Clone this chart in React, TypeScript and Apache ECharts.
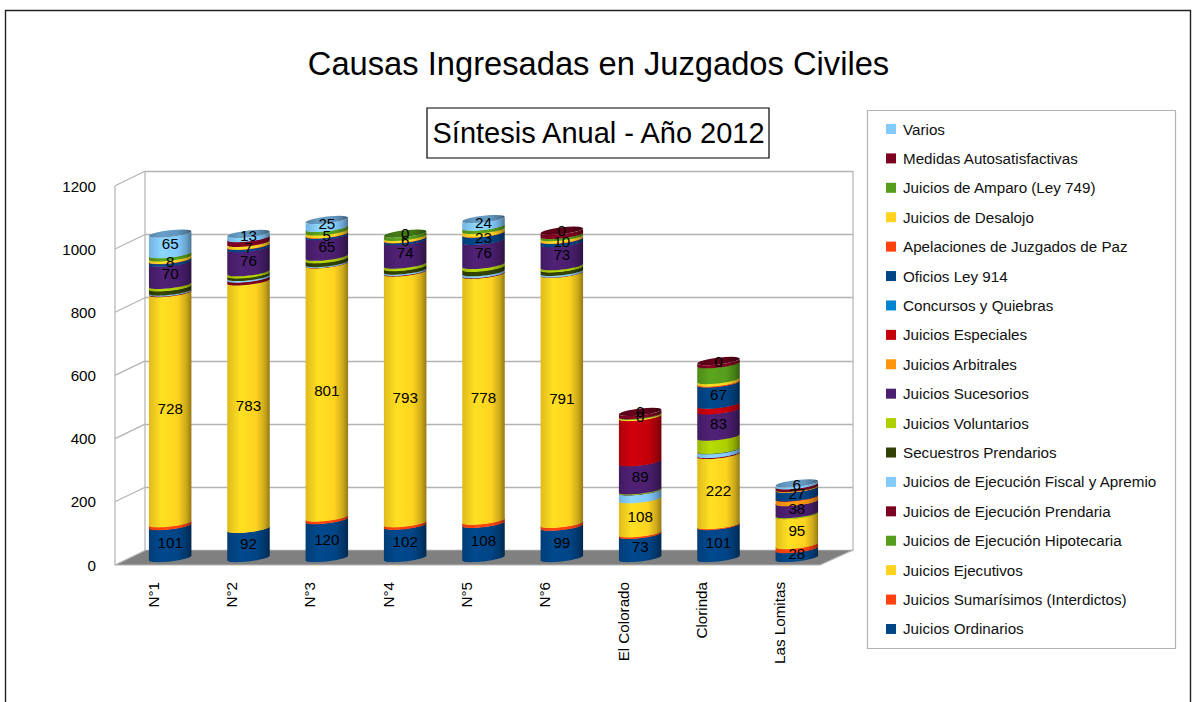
import React, { useEffect, useRef } from "react";
import * as echarts from "echarts";

const categories = ["N°1", "N°2", "N°3", "N°4", "N°5", "N°6", "El Colorado", "Clorinda", "Las Lomitas"];
const yTicks = [0, 200, 400, 600, 800, 1000, 1200];

const ordinarios = [101, 92, 120, 102, 108, 99, 73, 101, 28];
const sumarisimos = [9, 0, 8, 8, 10, 9, 5, 3, 13];
const ejecutivos = [728, 783, 801, 793, 778, 791, 108, 222, 95];
const hipotecaria = [0, 0, 0, 0, 0, 0, 0, 0, 1];
const prendaria = [2, 9, 1, 2, 2, 1, 0, 3, 0];
const fiscal = [3, 5, 3, 4, 6, 5, 25, 12, 0];
const secuestros = [13, 8, 12, 11, 14, 11, 1, 1, 0];
const voluntarios = [8, 7, 8, 8, 9, 7, 2, 42, 2];
const sucesorios = [70, 76, 65, 74, 76, 73, 89, 83, 38];
const arbitrales = [0, 0, 0, 0, 0, 0, 0, 0, 14];
const especiales = [0, 0, 0, 0, 0, 0, 143, 18, 1];
const concursos = [0, 0, 0, 0, 0, 0, 0, 0, 0];
const oficios = [8, 7, 5, 6, 23, 10, 0, 67, 27];
const apelaciones = [1, 1, 1, 1, 1, 1, 0, 3, 1];
const desalojo = [8, 9, 9, 7, 11, 8, 4, 8, 1];
const amparo = [10, 0, 11, 10, 10, 7, 2, 50, 1];
const medidas = [0, 15, 0, 0, 0, 13, 10, 10, 8];
const varios = [65, 13, 25, 0, 24, 0, 0, 0, 6];

const seriesNames = [
  "Juicios Ordinarios", "Juicios Sumarísimos (Interdictos)", "Juicios Ejecutivos",
  "Juicios de Ejecución Hipotecaria", "Juicios de Ejecución Prendaria",
  "Juicios de Ejecución Fiscal y Apremio", "Secuestros Prendarios", "Juicios Voluntarios",
  "Juicios Sucesorios", "Juicios Arbitrales", "Juicios Especiales", "Concursos y Quiebras",
  "Oficios Ley 914", "Apelaciones de Juzgados de Paz", "Juicios de Desalojo",
  "Juicios de Amparo (Ley 749)", "Medidas Autosatisfactivas", "Varios",
];
const seriesValues = [
  ordinarios, sumarisimos, ejecutivos, hipotecaria, prendaria, fiscal, secuestros, voluntarios,
  sucesorios, arbitrales, especiales, concursos, oficios, apelaciones, desalojo, amparo, medidas, varios,
];
const seriesColors = [
  "#004586", "#ff420e", "#ffd320", "#579d1c", "#7e0021", "#83caff", "#314004", "#aecf00",
  "#4b1f6f", "#ff950e", "#c5000b", "#0084d1", "#004586", "#ff420e", "#ffd320", "#579d1c", "#7e0021", "#83caff",
];
const labelledSeries = ["Juicios Ordinarios", "Juicios Ejecutivos", "Juicios Sucesorios", "Oficios Ley 914", "Varios"];

const FONT = "'Liberation Sans', Arial, sans-serif";
const WALL = "#b3b3b3";

function shade(hex: string, k: number) {
  const n = parseInt(hex.slice(1), 16);
  const f = (v: number) => Math.max(0, Math.min(255, Math.round(v * k)));
  return `rgb(${f((n >> 16) & 255)},${f((n >> 8) & 255)},${f(n & 255)})`;
}
function gradient(hex: string, k: number) {
  return {
    type: "linear", x: 0, y: 0, x2: 1, y2: 0,
    colorStops: [
      { offset: 0, color: shade(hex, 0.88 * k) },
      { offset: 0.3, color: shade(hex, 1.06 * k) },
      { offset: 0.68, color: shade(hex, 1.0 * k) },
      { offset: 0.88, color: shade(hex, 0.8 * k) },
      { offset: 1, color: shade(hex, 0.58 * k) },
    ],
  };
}

const A = 21.25, B = 3.4, T = 2.4;
function arc(cx: number, cy: number, from: number, to: number) {
  const pts: number[][] = [];
  const N = 20;
  for (let i = 0; i <= N; i++) {
    const th = from + ((to - from) * i) / N;
    pts.push([cx + A * Math.cos(th), cy - T * Math.cos(th) - B * Math.sin(th)]);
  }
  return pts;
}

function topSeriesOf(cat: number) {
  let top = 0;
  seriesValues.forEach((v, i) => { if (v[cat] > 0) top = i; });
  return top;
}

function makeSeries() {
  return seriesNames.map((name, s) => {
    const data = categories.map((_, c) => {
      let start = 0;
      for (let i = 0; i < s; i++) start += seriesValues[i][c];
      return [c, start, start + seriesValues[s][c]];
    });
    const color = seriesColors[s];
    const labelled = labelledSeries.includes(name);
    return {
      type: "custom", name, coordinateSystem: "cartesian2d", xAxisIndex: 2, yAxisIndex: 2,
      clip: false, silent: true, itemStyle: { color },
      encode: { x: 0, y: [1, 2] }, data,
      renderItem: (_p: any, api: any) => {
        const c = api.value(0), v0 = api.value(1), v1 = api.value(2);
        const [cx, y0] = api.coord([c, v0]);
        const [, y1] = api.coord([c, v1]);
        const children: any[] = [];
        const isTop = topSeriesOf(c) === s;
        if (v1 > v0) {
          const bottom = arc(cx, y0, Math.PI, 2 * Math.PI);
          const top = arc(cx, y1 - (isTop ? 0 : 0.4), 2 * Math.PI, Math.PI);
          children.push({ type: "polygon", shape: { points: bottom.concat(top) }, style: { fill: gradient(color, 1) } });
          if (isTop) {
            children.push({
              type: "polygon",
              shape: { points: arc(cx, y1, 0, 2 * Math.PI) },
              style: { fill: gradient(color, 0.74) },
            });
          }
        }
        if (labelled) {
          children.push({
            type: "text", z2: 1000,
            style: {
              text: String(v1 - v0), x: cx, y: (y0 + y1) / 2, align: "center", verticalAlign: "middle",
              fontSize: 15.2, fontFamily: FONT, fill: "#000",
            },
          });
        }
        return { type: "group", children };
      },
    };
  });
}

function wallGraphics() {
  const lineStyle = { stroke: WALL, lineWidth: 1.2 };
  const out: any[] = [
    { type: "rect", z: 1, shape: { x: 5.5, y: 10.5, width: 1185, height: 720 }, style: { fill: "none", stroke: "#222", lineWidth: 1.4 } },
    { type: "rect", z: 1, shape: { x: 867.5, y: 110.5, width: 308, height: 538 }, style: { fill: "#fff", stroke: WALL, lineWidth: 1.2 } },
    { type: "polygon", z: 1, shape: { points: [[115, 565], [820, 565], [852, 550.5], [145, 550.5]] }, style: { fill: "#808080" } },
    { type: "line", z: 1, shape: { x1: 145, y1: 171, x2: 145, y2: 551 }, style: lineStyle },
    { type: "line", z: 1, shape: { x1: 853, y1: 171, x2: 853, y2: 551 }, style: lineStyle },
    { type: "line", z: 1, shape: { x1: 820, y1: 565, x2: 853, y2: 550 }, style: lineStyle },
  ];
  yTicks.forEach((t) => {
    const dy = (t / 1200) * 379.2;
    out.push({ type: "line", z: 1, shape: { x1: 115, y1: 565 - dy, x2: 145, y2: 550.5 - dy }, style: lineStyle });
  });
  return out;
}

export default function App() {
  const ref = useRef<HTMLDivElement>(null);
  useEffect(() => {
    if (!ref.current) return;
    const chart = echarts.init(ref.current, undefined, { renderer: "svg" });
    const hiddenX = { type: "category", data: categories, show: false };
    chart.setOption({
      animation: false,
      backgroundColor: "#ffffff",
      title: [
        { text: "Causas Ingresadas en Juzgados Civiles", left: 593.5, top: 42, textAlign: "center",
          textStyle: { fontSize: 32.7, fontWeight: "normal", color: "#000", fontFamily: FONT } },
        { text: "Síntesis Anual - Año 2012", left: 426.5, top: 107.5, borderColor: "#000", borderWidth: 1.2,
          padding: [11, 1, 11, 6],
          textStyle: { fontSize: 29, fontWeight: "normal", color: "#000", fontFamily: FONT } },
      ],
      legend: {
        orient: "vertical", left: 886, top: 121.5, icon: "rect", itemWidth: 10, itemHeight: 10,
        itemGap: 14.41, padding: 0, selectedMode: false, align: "left",
        data: seriesNames.slice().reverse(),
        textStyle: { fontSize: 15.2, lineHeight: 14, color: "#111", fontFamily: FONT, padding: [0, 0, 0, 2] },
      },
      grid: [
        { left: 114, top: 186, width: 705, height: 379 },
        { left: 145, top: 171.3, width: 708, height: 379.2 },
        { left: 131, top: 178.6, width: 705, height: 379.4 },
      ],
      xAxis: [
        { type: "category", gridIndex: 0, data: categories, axisTick: { show: false },
          axisLine: { show: false },
          axisLabel: { rotate: 90, margin: 17, fontSize: 15.2, color: "#000", fontFamily: FONT, interval: 0 } },
        { ...hiddenX, gridIndex: 1 },
        { ...hiddenX, gridIndex: 2 },
      ],
      yAxis: [
        { type: "value", gridIndex: 0, min: 0, max: 1200, interval: 200, splitLine: { show: false },
          axisLine: { show: false }, axisTick: { show: false },
          axisLabel: { margin: 18, fontSize: 15.2, color: "#000", fontFamily: FONT,
            formatter: (v: number) => String(v) } },
        { type: "value", gridIndex: 1, min: 0, max: 1200, interval: 200, axisLabel: { show: false },
          axisLine: { show: false }, axisTick: { show: false },
          splitLine: { show: true, lineStyle: { color: WALL, width: 1.4 } } },
        { type: "value", gridIndex: 2, min: 0, max: 1200, interval: 200, show: false, splitLine: { show: false } },
      ],
      graphic: [
        ...wallGraphics(),
        { type: "line", z: 1, shape: { x1: 115, y1: 186, x2: 115, y2: 565 }, style: { stroke: WALL, lineWidth: 1.2 } },
        { type: "line", z: 1, shape: { x1: 115, y1: 565, x2: 820, y2: 565 }, style: { stroke: WALL, lineWidth: 1.2 } },
      ],
      series: makeSeries(),
    });
    return () => chart.dispose();
  }, []);
  return <div ref={ref} style={{ position: "absolute", left: 0, top: 0, width: 1194, height: 702 }} />;
}
